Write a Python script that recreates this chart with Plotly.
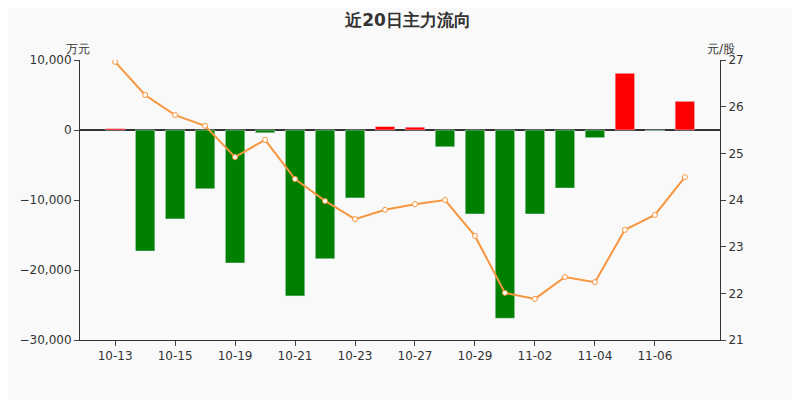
import plotly.graph_objects as go

dates = ["10-13", "10-14", "10-15", "10-16", "10-19", "10-20", "10-21", "10-22", "10-23", "10-26",
         "10-27", "10-28", "10-29", "10-30", "11-02", "11-03", "11-04", "11-05", "11-06", "11-09"]
flow = [200, -17300, -12700, -8400, -19000, -400, -23700, -18400, -9700, 500,
        400, -2400, -12000, -26900, -12000, -8300, -1100, 8100, -100, 4100]
price = [26.96, 26.25, 25.82, 25.59, 24.92, 25.29, 24.45, 23.98, 23.59, 23.79,
         23.91, 24.0, 23.23, 22.01, 21.88, 22.35, 22.24, 23.36, 23.68, 24.49]
tick_labels = ["10-13", "10-15", "10-19", "10-21", "10-23", "10-27", "10-29", "11-02", "11-04", "11-06"]

colors = ["#ff0000" if v > 0 else "#008000" for v in flow]

fig = go.Figure()
fig.add_trace(go.Bar(x=dates, y=flow, marker_color=colors, width=0.65, yaxis="y"))
fig.add_trace(go.Scatter(x=dates, y=price, yaxis="y2", mode="lines+markers",
                         line=dict(color="#f7963e", width=2),
                         marker=dict(size=5, color="white", line=dict(color="#f7963e", width=1))))

# page body adds an 8px offset, so margins are shifted to land the plot at 80..720 / 60..340
fig.update_layout(
    width=800, height=400, showlegend=False,
    paper_bgcolor="#f9f9f9", plot_bgcolor="#f9f9f9",
    margin=dict(l=72, r=88, t=52, b=68),
    font=dict(family="DejaVu Sans", size=12, color="#333"),
    title=dict(text="<b>近20日主力流向</b>", x=0.5, xanchor="center", y=0.985, font=dict(size=17, color="#333")),
    xaxis=dict(type="category", tickvals=tick_labels, ticktext=tick_labels,
               showline=True, linecolor="#333", ticks="outside", showgrid=False),
    yaxis=dict(range=[-30000, 10000], dtick=10000, tickformat=",", showgrid=False,
               showline=True, linecolor="#333", ticks="outside", zeroline=True,
               zerolinecolor="#333"),
    yaxis2=dict(range=[21, 27], dtick=1, overlaying="y", side="right", showgrid=False,
                showline=True, linecolor="#333", ticks="outside"),
    annotations=[
        dict(text="万元", x=0, y=1.07, xref="paper", yref="paper", showarrow=False,
             xanchor="right", xshift=12),
        dict(text="元/股", x=1, y=1.07, xref="paper", yref="paper", showarrow=False,
             xanchor="left", xshift=-15),
    ],
)
fig.write_html("out.html")
